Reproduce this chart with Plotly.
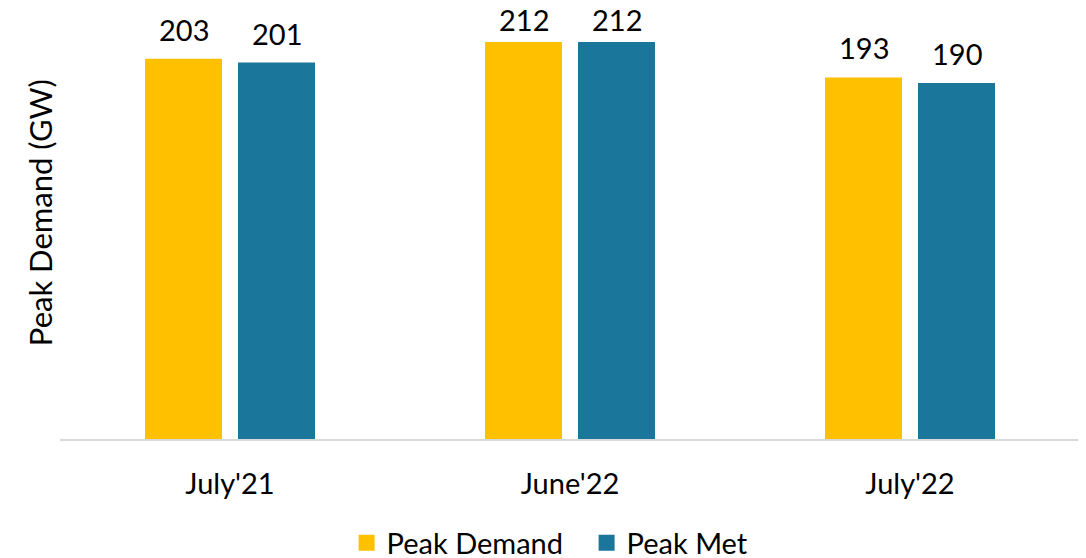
import plotly.graph_objects as go

categories = ["July'21", "June'22", "July'22"]
peak_demand = [203, 212, 193]
peak_met = [201, 212, 190]
series_names = ["Peak Demand", "Peak Met"]
colors = ["#FFC000", "#1B769C"]
y_title = "Peak Demand (GW)"

FONT = "Lato, Calibri, Carlito, sans-serif"

# figure geometry (the page body has an 8px margin, so the figure is sized to the visible area)
W, H = 1078, 550
ML, MR, MT, MB = 52, 6, 0, 119
Y_MAX = 230.1
plot_h = H - MT - MB
px_per_unit = plot_h / Y_MAX
LABEL_GAP = 10        # px between bar top and label box
LABEL_TOP_LIMIT = 31  # labels are kept at least this far (px) below the plot top

fig = go.Figure()
for name, vals, col in zip(series_names, [peak_demand, peak_met], colors):
    fig.add_trace(go.Bar(name=name, x=categories, y=vals, marker_color=col,
                         marker_line_width=0, showlegend=False))
# legend entries with larger square swatches
for name, col in zip(series_names, colors):
    fig.add_trace(go.Scatter(name=name, x=[None], y=[None], mode="markers",
                             marker=dict(symbol="square", size=19, color=col),
                             showlegend=True))

# data labels (kept inside the chart area like the original)
for vals, shift in zip([peak_demand, peak_met], [-46.5, 46.5]):
    for c, v in zip(categories, vals):
        bar_top = plot_h - v * px_per_unit
        label_bottom = max(bar_top - LABEL_GAP, LABEL_TOP_LIMIT)
        ys = bar_top - label_bottom
        fig.add_annotation(x=c, y=v, text=str(v), showarrow=False,
                           xshift=shift, yshift=ys, yanchor="bottom",
                           font=dict(family=FONT, size=29, color="#000000"))

# y-axis title
fig.add_annotation(text=y_title, xref="paper", yref="paper", x=-0.0196, y=0.524,
                   xanchor="center", yanchor="middle", textangle=-90, showarrow=False,
                   font=dict(family=FONT, size=31, color="#000000"))

fig.update_layout(
    width=W, height=H,
    margin=dict(l=ML, r=MR, t=MT, b=MB, autoexpand=False),
    barmode="group", bargap=0.453, bargroupgap=0.172,
    plot_bgcolor="white", paper_bgcolor="white",
    font=dict(family=FONT, size=29, color="#000000"),
    showlegend=True,
    legend=dict(orientation="h", x=0.281, xanchor="left", y=-0.241, yanchor="middle",
                font=dict(family=FONT, size=29, color="#000000"),
                traceorder="normal", itemwidth=30, entrywidth=195, entrywidthmode="pixels"),
)
fig.update_xaxes(showline=True, linecolor="#D9D9D9", linewidth=2, ticks="",
                 ticklabelstandoff=18, tickfont=dict(family=FONT, size=29),
                 automargin=False)
fig.update_yaxes(range=[0, Y_MAX], showticklabels=False, showgrid=False, zeroline=False,
                 automargin=False)

fig.write_html("out.html")
